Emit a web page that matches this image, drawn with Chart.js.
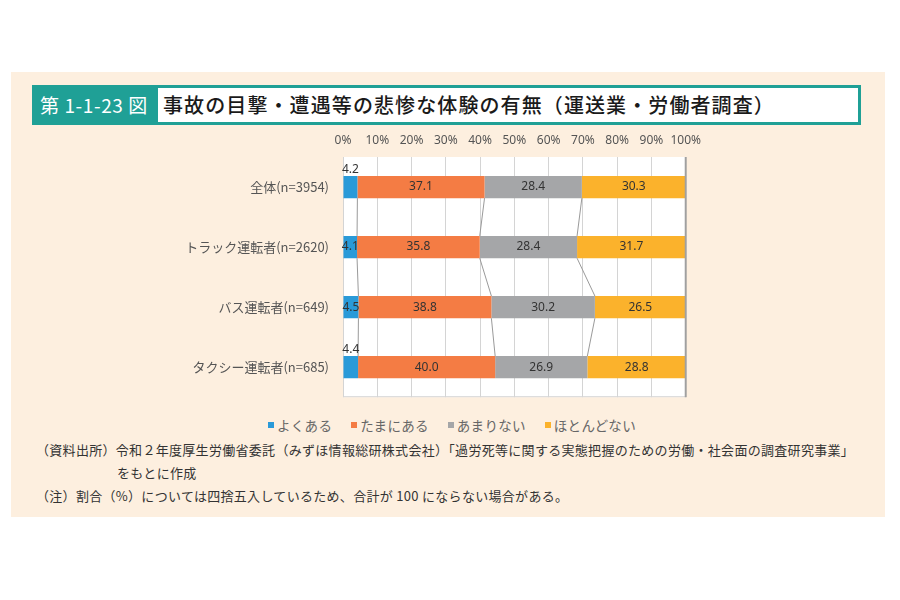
<!DOCTYPE html>
<html lang="ja">
<head>
<meta charset="utf-8">
<script src="https://cdn.jsdelivr.net/npm/chart.js@4.4.1/dist/chart.umd.min.js"></script>
<style>
  html, body { margin:0; padding:0; background:#ffffff; width:900px; height:600px; overflow:hidden;
    font-family: "Noto Sans CJK JP", "Noto Sans", sans-serif; }
  #panel { position:absolute; left:11px; top:72px; width:874px; height:445px; background:#fdefdf; }
  #titlebox { position:absolute; left:32px; top:85px; width:829px; height:40px; box-sizing:border-box;
    border:3px solid #1fa096; background:#ffffff; }
  #titlenum { position:absolute; left:0; top:0; width:123px; height:34px; background:#1fa096; color:#ffffff;
    font-size:19px; line-height:34px; padding-left:5px; box-sizing:border-box; font-weight:400; letter-spacing:0.6px; }
  #titletext { position:absolute; left:128px; top:0; height:34px; line-height:34px; font-size:20px; font-weight:500; color:#1a1a1a; letter-spacing:1.1px; }
  #chartwrap { position:absolute; left:150px; top:128px; width:560px; height:283px; }
  #legend { position:absolute; left:268px; top:415px; height:20px; display:flex; align-items:center; }
  .li { display:flex; align-items:center; margin-right:19px; font-size:13.5px; color:#666; line-height:20px; letter-spacing:0.3px; }
  .li i { display:inline-block; width:6px; height:6px; margin-right:3px; }
  .note { position:absolute; font-size:13px; color:#333; white-space:nowrap; letter-spacing:0.3px; }
</style>
</head>
<body>
<div id="panel"></div>
<div id="titlebox">
  <div id="titlenum">第 1-1-23 図</div>
  <div id="titletext">事故の目撃・遭遇等の悲惨な体験の有無（運送業・労働者調査）</div>
</div>
<div id="chartwrap"><canvas id="c"></canvas></div>
<div id="legend"></div>
<div class="note" style="left:36px; top:440px;">（資料出所）令和２年度厚生労働省委託（みずほ情報総研株式会社）「過労死等に関する実態把握のための労働・社会面の調査研究事業」</div>
<div class="note" style="left:117px; top:463px;">をもとに作成</div>
<div class="note" style="left:36px; top:486px;">（注）割合（%）については四捨五入しているため、合計が 100 にならない場合がある。</div>
<script>
const categories = ["全体(n=3954)", "トラック運転者(n=2620)", "バス運転者(n=649)", "タクシー運転者(n=685)"];
const seriesNames = ["よくある", "たまにある", "あまりない", "ほとんどない"];
const often     = [4.2, 4.1, 4.5, 4.4];
const sometimes = [37.1, 35.8, 38.8, 40.0];
const rarely    = [28.4, 28.4, 30.2, 26.9];
const almostNever = [30.3, 31.7, 26.5, 28.8];
const xTicks = [0,10,20,30,40,50,60,70,80,90,100];

const colors = ["#2a9ad8", "#f47c44", "#a5a6a8", "#fbb22c"];
const seriesValues = [often, sometimes, rarely, almostNever];

const plotBg = {
  id: 'plotBg',
  beforeDraw(chart) {
    const {ctx, chartArea:a} = chart;
    ctx.save();
    ctx.fillStyle = '#ffffff';
    ctx.fillRect(a.left, a.top, a.right - a.left, a.bottom - a.top);
    ctx.restore();
  },
  afterDatasetsDraw(chart) {
    const {ctx, chartArea:a} = chart;
    ctx.save();
    // series lines
    ctx.strokeStyle = '#9a9a9a';
    ctx.lineWidth = 1;
    for (let d = 0; d < 3; d++) {
      const els = chart.getDatasetMeta(d).data;
      for (let i = 0; i < els.length - 1; i++) {
        const e1 = els[i], e2 = els[i+1];
        ctx.beginPath();
        ctx.moveTo(e1.x, e1.y + e1.height/2);
        ctx.lineTo(e2.x, e2.y - e2.height/2);
        ctx.stroke();
      }
    }
    // border bottom / right
    ctx.strokeStyle = '#d6d6d6';
    ctx.beginPath();
    ctx.moveTo(a.left, a.bottom - 0.5);
    ctx.lineTo(a.right, a.bottom - 0.5);
    ctx.stroke();
    ctx.strokeStyle = '#a0a0a0';
    ctx.lineWidth = 2;
    ctx.beginPath();
    ctx.moveTo(a.right, a.top);
    ctx.lineTo(a.right, a.bottom);
    ctx.stroke();
    // labels
    ctx.fillStyle = '#333333';
    ctx.font = '12px "Noto Sans", "DejaVu Sans", sans-serif';
    ctx.textAlign = 'center';
    ctx.textBaseline = 'middle';
    const above = chart.options.plugins.plotBg.firstAbove;
    chart.data.datasets.forEach((ds, d) => {
      chart.getDatasetMeta(d).data.forEach((el, i) => {
        const v = ds.data[i];
        const cx = (el.x + el.base) / 2;
        let cy = el.y;
        if (d === 0 && above[i]) cy = el.y - el.height/2 - 6;
        ctx.fillText(v.toFixed(1), cx, cy);
      });
    });
    ctx.restore();
  }
};

// HTML legend built from the series names / colours
const legendEl = document.getElementById('legend');
seriesNames.forEach((n, k) => {
  const item = document.createElement('span');
  item.className = 'li';
  const sw = document.createElement('i');
  sw.style.background = colors[k];
  item.appendChild(sw);
  item.appendChild(document.createTextNode(n));
  legendEl.appendChild(item);
});

new Chart(document.getElementById('c'), {
  type: 'bar',
  data: {
    labels: categories,
    datasets: seriesValues.map((vals, k) => ({
      label: seriesNames[k],
      data: vals,
      backgroundColor: colors[k],
      borderWidth: 0,
      barPercentage: 0.37,
      categoryPercentage: 1.0
    }))
  },
  options: {
    indexAxis: 'y',
    responsive: true,
    maintainAspectRatio: false,
    animation: false,
    layout: { padding: { left: 0, right: 23, top: 0, bottom: 0 } },
    scales: {
      x: {
        position: 'top',
        stacked: true,
        min: 0, max: 100,
        afterBuildTicks(axis) { axis.ticks = xTicks.map(v => ({value: v})); },
        ticks: {
          callback: v => v + '%',
          color: '#555555',
          font: { size: 12, family: '"Noto Sans", "DejaVu Sans", sans-serif' },
          padding: 9,
          maxRotation: 0
        },
        grid: { color: '#d4d4d4', drawTicks: false, lineWidth: 1 },
        border: { display: false },
        afterFit(axis) { axis.height = 29; }
      },
      y: {
        stacked: true,
        ticks: {
          color: '#555555',
          font: { size: 13, family: '"Noto Sans CJK JP", sans-serif' },
          padding: 6
        },
        grid: { display: false },
        border: { display: false },
        afterFit(axis) { axis.width = 193; }
      }
    },
    plugins: {
      plotBg: { firstAbove: [true, false, false, true] },
      tooltip: { enabled: false },
      legend: { display: false }
    }
  },
  plugins: [plotBg]
});
</script>
</body>
</html>
